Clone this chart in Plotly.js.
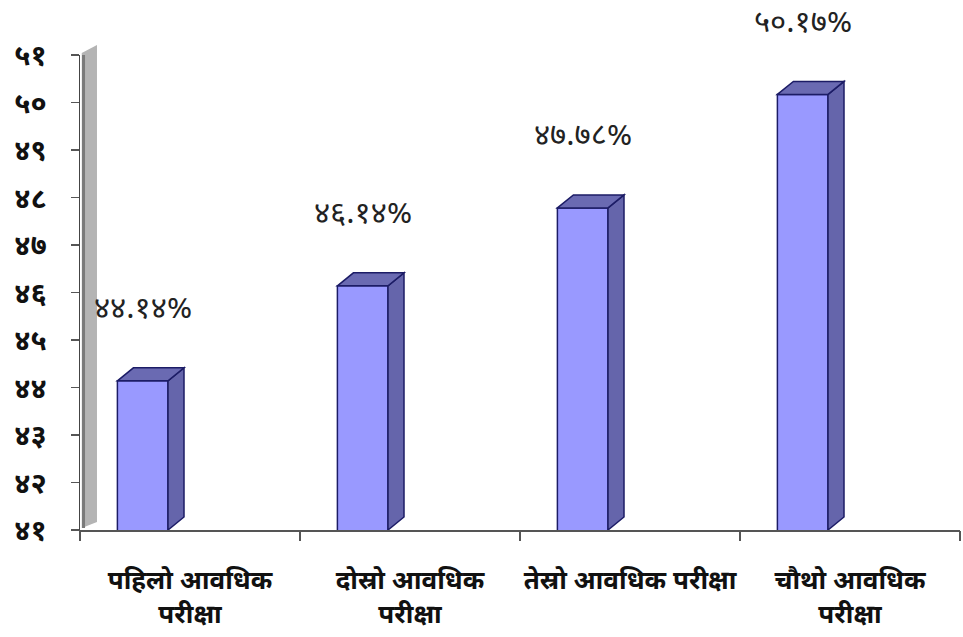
<!DOCTYPE html>
<html>
<head>
<meta charset="utf-8">
<script src="https://cdn.plot.ly/plotly-3.0.1.min.js"></script>
<style>html,body{margin:0;padding:0;background:#fff;}#chart{width:963px;height:637px;}</style>
</head>
<body>
<div id="chart"></div>
<script>
// ---- data ----
const categories = ["पहिलो आवधिक<br>परीक्षा", "दोस्रो आवधिक<br>परीक्षा", "तेस्रो आवधिक परीक्षा", "चौथो आवधिक<br>परीक्षा"];
const passRates = [44.14, 46.14, 47.78, 50.17];
const yTickValues = [41, 42, 43, 44, 45, 46, 47, 48, 49, 50, 51];

// ---- helpers ----
const devDigits = "०१२३४५६७८९";
function toDev(s) { return String(s).replace(/[0-9]/g, d => devDigits[+d]); }

const FONT = "'Noto Sans Devanagari', 'Lohit Devanagari', 'Noto Sans', 'DejaVu Sans', sans-serif";
const idx = categories.map((c, i) => i);
const yMin = yTickValues[0], yMax = yTickValues[yTickValues.length - 1];

const barWidth = 0.23, barOffset = -0.33;
const depthX = 16 / 220;      // depth offset in category units
const depthY = 13 / 47.5;     // depth offset in y units

const front = {
  type: 'bar', x: idx, y: passRates,
  width: barWidth, offset: barOffset,
  marker: { color: '#9999ff', line: { color: '#1c1c66', width: 1.5 } },
  hoverinfo: 'skip'
};
const ghost = {
  type: 'scatter', x: [idx[0]], y: [yMin], xaxis: 'x2', yaxis: 'y',
  mode: 'markers', marker: { opacity: 0 }, hoverinfo: 'skip', showlegend: false
};

const shapes = [];
// side wall (frame decoration, paper coords)
shapes.push({
  type: 'path', xref: 'paper', yref: 'paper', layer: 'below',
  path: 'M 0.002 0.004 L 0.002 1.004 L 0.0193 1.021 L 0.0193 0.017 Z',
  fillcolor: '#b4b4b4', line: { width: 0 }
});
shapes.push({
  type: 'line', xref: 'paper', yref: 'paper', layer: 'below',
  x0: 0.004, x1: 0.004, y0: 0.004, y1: 1.0,
  line: { color: '#7a7a7a', width: 3 }
});
passRates.forEach((v, i) => {
  const xl = i + barOffset, xr = xl + barWidth;
  shapes.push({
    type: 'path', xref: 'x', yref: 'y',
    path: `M ${xr} ${yMin} L ${xr} ${v} L ${xr + depthX} ${v + depthY} L ${xr + depthX} ${yMin + depthY} Z`,
    fillcolor: '#6565ab', line: { color: '#1c1c66', width: 1.5 }
  });
  shapes.push({
    type: 'path', xref: 'x', yref: 'y',
    path: `M ${xl} ${v} L ${xl + depthX} ${v + depthY} L ${xr + depthX} ${v + depthY} L ${xr} ${v} Z`,
    fillcolor: '#6a6ab2', line: { color: '#1c1c66', width: 1.5 }
  });
});

const annotations = passRates.map((v, i) => ({
  x: i - 0.215, y: v, xref: 'x', yref: 'y',
  text: toDev(v.toFixed(2)) + '%',
  showarrow: false, yshift: 70, xanchor: 'center', yanchor: 'middle',
  font: { family: FONT, size: 31, color: '#222' }
}));

const layout = {
  width: 963, height: 637,
  margin: { l: 80, r: 3, t: 55, b: 107 },
  paper_bgcolor: '#ffffff', plot_bgcolor: '#ffffff',
  showlegend: false,
  xaxis: {
    range: [-0.5, categories.length - 0.5],
    tickvals: idx, ticktext: categories,
    ticks: '', showgrid: false, zeroline: false,
    showline: true, linecolor: '#555', linewidth: 1.5,
    ticklabelstandoff: 26,
    tickfont: { family: FONT, size: 26, color: '#111', weight: 'bold' },
    fixedrange: true
  },
  xaxis2: {
    overlaying: 'x', anchor: 'y', side: 'bottom',
    range: [-0.5, categories.length - 0.5],
    tickvals: idx.concat([idx.length]).map(v => v - 0.5),
    ticks: 'outside', ticklen: 10, tickcolor: '#555', tickwidth: 1.5,
    showticklabels: false, showgrid: false, zeroline: false, showline: false
  },
  yaxis: {
    range: [yMin, yMax],
    tickvals: yTickValues, ticktext: yTickValues.map(toDev),
    ticks: 'outside', ticklen: 8, tickcolor: '#555', tickwidth: 1.5,
    showline: true, linecolor: '#444', linewidth: 1.5,
    showgrid: false, zeroline: false,
    ticklabelstandoff: 18,
    tickfont: { family: FONT, size: 29, color: '#111', weight: 'bold' },
    fixedrange: true
  },
  shapes: shapes,
  annotations: annotations
};

Plotly.newPlot('chart', [front, ghost], layout, { displayModeBar: false, staticPlot: true });
</script>
</body>
</html>
